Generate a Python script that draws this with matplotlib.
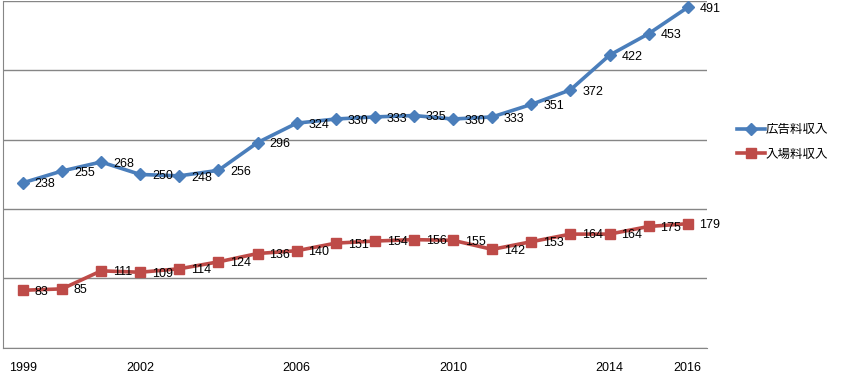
import matplotlib
matplotlib.use("Agg")
from matplotlib import pyplot as plt

plt.rcParams["font.family"] = ["Liberation Sans", "Noto Sans CJK JP", "DejaVu Sans"]

years = list(range(1999, 2017))
ad_revenue = [238, 255, 268, 250, 248, 256, 296, 324, 330, 333, 335, 330, 333, 351, 372, 422, 453, 491]
admission = [83, 85, 111, 109, 114, 124, 136, 140, 151, 154, 156, 155, 142, 153, 164, 164, 175, 179]
shown_years = [1999, 2002, 2006, 2010, 2014, 2016]
series_names = ["広告料収入", "入場料収入"]

BLUE = "#4A7EBB"
RED = "#BE4B48"

fig = plt.figure(figsize=(8.44, 3.74), dpi=100)
ax = fig.add_axes([0.004, 0.07, 0.834, 0.927])

x = list(range(len(years)))
ax.plot(x, ad_revenue, color=BLUE, lw=2.6, marker="D", ms=6, label=series_names[0], zorder=3)
ax.plot(x, admission, color=RED, lw=2.6, marker="s", ms=6.5, label=series_names[1], zorder=3)

for xi, v in zip(x, ad_revenue):
    ax.annotate(str(v), (xi, v), xytext=(8.5, -1.2), textcoords="offset points",
                fontsize=9, va="center", ha="left", zorder=4)
for xi, v in zip(x, admission):
    ax.annotate(str(v), (xi, v), xytext=(8.5, -1), textcoords="offset points",
                fontsize=9, va="center", ha="left", zorder=4)

ax.set_xlim(-0.5, 17.5)
ax.set_ylim(0, 500)
ax.set_yticks([0, 100, 200, 300, 400, 500])
ax.set_yticklabels([])
ax.yaxis.grid(True, color="#868686", lw=1)
ax.set_axisbelow(True)
ax.tick_params(axis="y", length=0)

ax.set_xticks([years.index(y) for y in shown_years])
ax.set_xticklabels([str(y) for y in shown_years], fontsize=9)
ax.tick_params(axis="x", length=0, pad=10)

for s in ["top", "right"]:
    ax.spines[s].set_visible(False)
ax.spines["left"].set_color("#868686")
ax.spines["bottom"].set_color("#868686")

leg = fig.legend(loc="center left", bbox_to_anchor=(0.86, 0.62), frameon=False,
                 prop={"family": ["Noto Sans CJK JP", "DejaVu Sans"], "size": 9},
                 handlelength=2.2, handletextpad=0.1, labelspacing=0.9)

fig.savefig("out.png", dpi=100)
